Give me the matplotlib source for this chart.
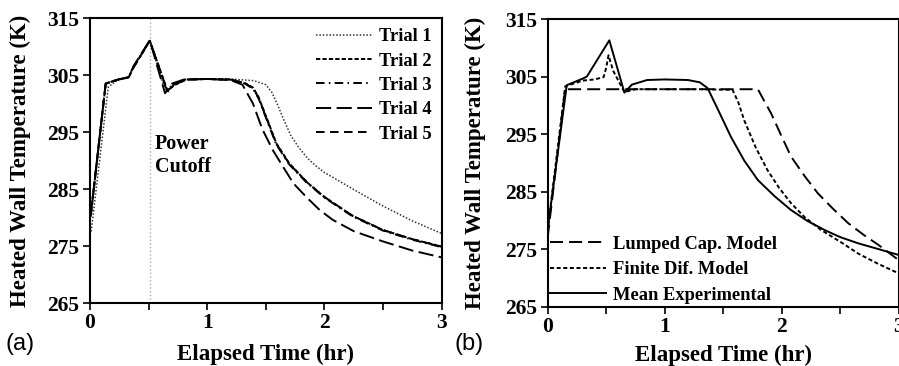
import matplotlib.pyplot as plt

plt.rcParams['font.family'] = 'Liberation Serif'
plt.rcParams['font.weight'] = 'bold'
plt.rcParams['axes.labelweight'] = 'bold'

# (a) five trials
trial1_t = [0.0, 0.01, 0.156, 0.24, 0.33, 0.37, 0.51, 0.645, 0.70, 0.80, 1.0, 1.2, 1.4, 1.50, 1.55, 1.60, 1.65, 1.71, 1.78, 1.86, 1.93, 2.0, 2.25, 2.5, 2.75, 3.0]
trial1_T = [277.0, 277.5, 302.9, 304.2, 304.6, 306.5, 311.1, 302.0, 303.3, 304.2, 304.3, 304.3, 304.0, 303.3, 302.0, 299.8, 297.3, 294.5, 292.3, 290.3, 289.0, 287.9, 284.9, 282.0, 279.4, 277.2]

trial_t = [0.0, 0.01, 0.134, 0.24, 0.33, 0.37, 0.51, 0.66, 0.72, 0.82, 1.0, 1.2, 1.32, 1.39, 1.436, 1.51, 1.59, 1.70, 1.85, 2.0, 2.24, 2.5, 2.75, 3.0]
trial2_T = [280.0, 281.0, 303.5, 304.2, 304.6, 306.3, 311.0, 302.3, 303.2, 304.2, 304.3, 304.2, 303.6, 302.8, 301.2, 297.3, 293.0, 289.5, 286.2, 283.6, 280.3, 277.8, 276.2, 274.9]
trial3_T = [280.0, 281.0, 303.5, 304.2, 304.6, 306.3, 311.0, 302.0, 303.4, 304.2, 304.3, 304.2, 303.5, 302.6, 301.0, 297.0, 292.8, 289.3, 286.1, 283.5, 280.2, 277.7, 276.1, 274.8]
trial5_T = [280.0, 281.0, 303.5, 304.2, 304.6, 306.3, 311.0, 302.2, 303.3, 304.2, 304.3, 304.2, 303.6, 302.7, 301.1, 297.2, 292.9, 289.4, 286.2, 283.6, 280.3, 277.8, 276.2, 274.9]

trial4_t = [0.0, 0.01, 0.134, 0.24, 0.33, 0.37, 0.51, 0.64, 0.70, 0.80, 1.0, 1.2, 1.30, 1.39, 1.47, 1.56, 1.65, 1.735, 1.85, 1.96, 2.07, 2.25, 2.5, 2.75, 3.0]
trial4_T = [280.0, 281.0, 303.5, 304.2, 304.6, 306.5, 311.1, 301.8, 303.5, 304.2, 304.3, 304.1, 303.3, 300.0, 295.5, 291.8, 288.8, 286.0, 283.5, 281.3, 279.6, 277.6, 275.8, 274.2, 273.0]

cutoff_t = 0.51

# (b) models vs mean experiment
lumped_t = [0.0, 0.149, 1.797, 1.85, 1.91, 2.0, 2.08, 2.2, 2.31, 2.44, 2.57, 2.70, 2.83, 3.0]
lumped_T = [277.0, 302.8, 302.8, 300.8, 298.6, 294.6, 291.1, 287.6, 284.7, 282.0, 279.5, 277.5, 275.7, 273.1]

findif_t = [0.0, 0.01, 0.15, 0.30, 0.40, 0.478, 0.50, 0.52, 0.56, 0.656, 0.75, 1.0, 1.3, 1.58, 1.63, 1.68, 1.78, 1.88, 1.98, 2.08, 2.2, 2.34, 2.5, 2.657, 2.83, 3.0]
findif_T = [278.0, 280.0, 303.3, 304.3, 304.5, 304.9, 306.5, 308.7, 306.0, 302.3, 302.8, 302.8, 302.8, 302.7, 300.5, 297.4, 292.6, 288.7, 285.6, 283.0, 280.5, 278.3, 276.3, 274.2, 272.4, 270.8]

mean_t = [0.0, 0.01, 0.163, 0.306, 0.335, 0.527, 0.656, 0.72, 0.85, 1.0, 1.2, 1.30, 1.367, 1.45, 1.567, 1.68, 1.797, 1.94, 2.08, 2.22, 2.37, 2.5, 2.657, 2.83, 3.0]
mean_T = [278.0, 280.0, 303.5, 304.7, 305.0, 311.3, 302.2, 303.6, 304.4, 304.5, 304.4, 304.0, 303.0, 299.5, 294.5, 290.4, 287.0, 284.2, 281.8, 279.9, 278.3, 277.1, 276.0, 275.0, 274.0]

yticks = [265, 275, 285, 295, 305, 315]

fig = plt.figure(figsize=(8.99, 3.66), dpi=100)
axa = fig.add_axes([0.1001, 0.1721, 0.3912, 0.7787])
axb = fig.add_axes([0.6092, 0.1620, 0.3904, 0.7860])

lw = 1.4
axa.plot(trial1_t, trial1_T, color='#333333', lw=1.1, dashes=(1, 1.2), label='Trial 1')
axa.plot(trial_t, trial2_T, color='black', lw=lw, dashes=(2.2, 1.1), label='Trial 2')
axa.plot(trial_t, trial3_T, color='black', lw=lw, dashes=(4.4, 2.2, 0.8, 2.2), label='Trial 3')
axa.plot(trial4_t, trial4_T, color='black', lw=lw, dashes=(7.8, 2.8), label='Trial 4')
axa.plot(trial_t, trial5_T, color='black', lw=lw, dashes=(4.4, 2.8), label='Trial 5')
axa.axvline(cutoff_t, color='#aaaaaa', lw=1.0, ls=':', zorder=0)
axa.text(0.555, 294.6, 'Power\nCutoff', fontsize=14.5, va='top', ha='left', linespacing=1.15)

axb.plot(lumped_t, lumped_T, color='black', lw=lw, dashes=(6.7, 3.1), label='Lumped Cap. Model')
axb.plot(findif_t, findif_T, color='black', lw=lw, dashes=(2.1, 1.3), label='Finite Dif. Model')
axb.plot(mean_t, mean_T, color='black', lw=lw, label='Mean Experimental')

for ax in (axa, axb):
    ax.set_xlim(0, 3)
    ax.set_ylim(265, 315)
    ax.set_yticks(yticks)
    ax.set_xticks([0, 0.5, 1, 1.5, 2, 2.5, 3])
    ax.set_xticklabels(['0', '', '1', '', '2', '', '3'])
    ax.tick_params(direction='out', length=5, width=1.2, labelsize=15.5, pad=2.5)
    for s in ax.spines.values():
        s.set_linewidth(1.5)
    ax.set_xlabel('Elapsed Time (hr)', fontsize=16.5, va='center')
    ax.set_ylabel('Heated Wall Temperature (K)', fontsize=16.5, va='center')

# label centres in pixels: x label at y=355, y labels at x=20 and x=475
axa.xaxis.set_label_coords(0.5, -0.181)
axb.xaxis.set_label_coords(0.5, -0.168)
axa.yaxis.set_label_coords(-0.199, 0.5)
axb.yaxis.set_label_coords(-0.207, 0.5)

axa.legend(loc='upper right', frameon=False, fontsize=13.3, handlelength=3.0,
           handletextpad=0.4, labelspacing=0.4, borderaxespad=0.35, borderpad=0.2)
axb.legend(loc='lower left', frameon=False, fontsize=13.3, handlelength=3.0,
           handletextpad=0.4, labelspacing=0.46, borderaxespad=0.05, borderpad=0.1)

fig.text(0.006, 0.045, '(a)', fontsize=17, family='Liberation Sans', weight='normal')
fig.text(0.506, 0.045, '(b)', fontsize=17, family='Liberation Sans', weight='normal')

fig.savefig('out.png', dpi=100)
